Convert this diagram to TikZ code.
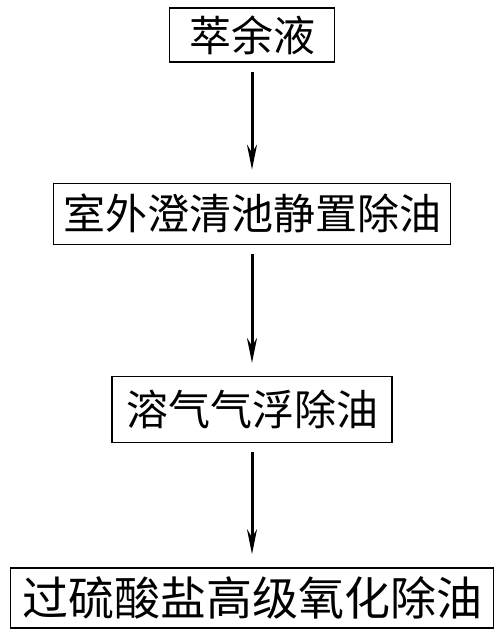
\documentclass[tikz,border=0pt]{standalone}
\usepackage{fontspec}
\newfontfamily\cjk{Noto Sans CJK SC}
\usetikzlibrary{positioning,arrows.meta}

\begin{document}
\begin{tikzpicture}[x=1pt,y=1pt,
  every node/.style={draw, line width=1.3pt, inner sep=0pt, font=\cjk\fontsize{42}{48}\selectfont},
  flow/.style={-{Stealth[length=25pt,width=10pt]}, line width=3pt, shorten <=9pt, shorten >=13pt}]
\useasboundingbox (0,0) rectangle (500,-634);
\node (raffinate) [minimum width=165pt, minimum height=54pt] at (252,-35) {萃余液};
\node (settling) [below=120pt of raffinate, minimum width=397pt, minimum height=61pt] {室外澄清池静置除油};
\node (flotation) [below=131pt of settling, minimum width=280pt, minimum height=66pt] {溶气气浮除油};
\node (oxidation) [below=124pt of flotation, minimum width=483pt, minimum height=60pt, font=\cjk\fontsize{46}{52}\selectfont] {过硫酸盐高级氧化除油};
\draw[flow] (raffinate) -- (settling);
\draw[flow] (settling) -- (flotation);
\draw[flow] (flotation) -- (oxidation);
\end{tikzpicture}
\end{document}
